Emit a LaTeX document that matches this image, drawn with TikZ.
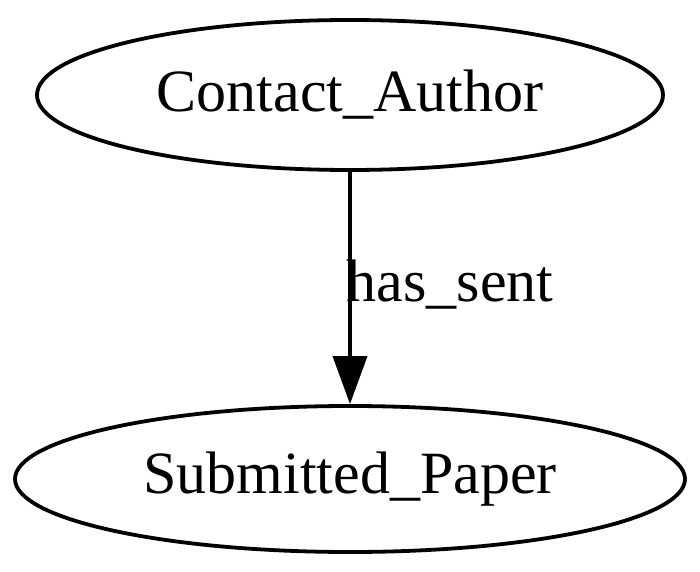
\documentclass[tikz,border=0pt]{standalone}
\usepackage{fontspec}
\setmainfont{Liberation Serif}
\usetikzlibrary{shapes.geometric,arrows.meta}
\begin{document}
\begin{tikzpicture}[x=1pt,y=1pt,
  ent/.style={draw, line width=3.8pt, ellipse, inner sep=0pt, font=\fontsize{60}{64}\selectfont},
  rel/.style={line width=3.8pt, -{Triangle[length=48pt,width=34pt]}, shorten >=0pt}]
\useasboundingbox (0,0) rectangle (700,571);
\node[ent, minimum width=626, minimum height=150] (a) at (350,476) {Contact\_Author};
\node[ent, minimum width=670, minimum height=146] (b) at (350,92) {Submitted\_Paper};
\draw[rel] (a) -- (b);
\node[font=\fontsize{60}{64}\selectfont] (l) at (450,286) {has\_sent};
\end{tikzpicture}
\end{document}
